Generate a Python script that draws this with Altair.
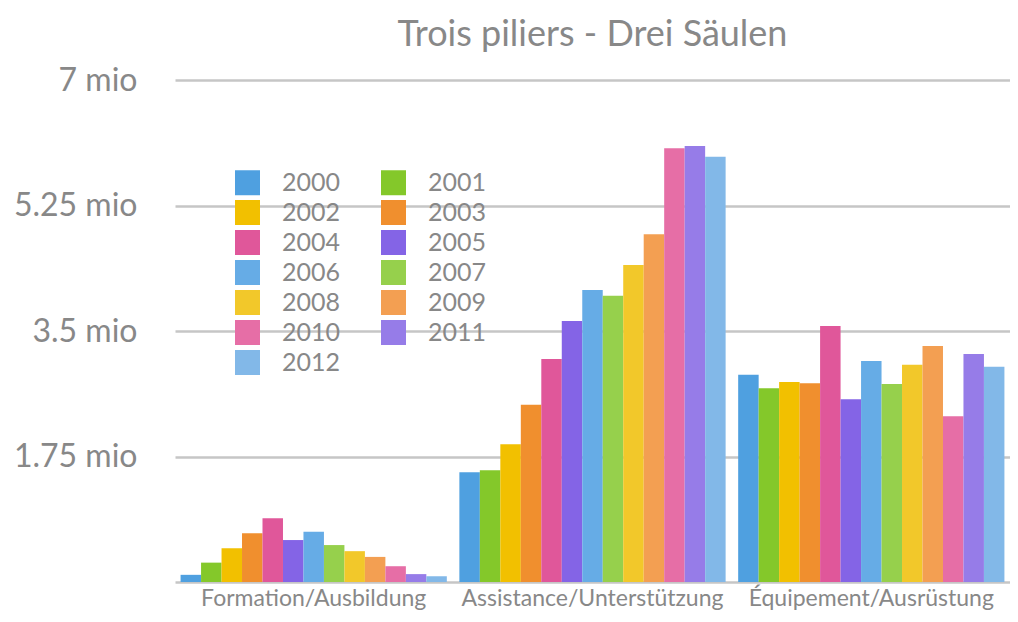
import altair as alt
import pandas as pd

categories = ["Formation/Ausbildung", "Assistance/Unterstützung", "Équipement/Ausrüstung"]
years = [str(y) for y in range(2000, 2013)]
formation = [0.10, 0.27, 0.47, 0.68, 0.89, 0.585, 0.70, 0.515, 0.43, 0.35, 0.22, 0.11, 0.08]
assistance = [1.53, 1.56, 1.92, 2.47, 3.11, 3.64, 4.07, 3.99, 4.42, 4.85, 6.05, 6.08, 5.93]
equipement = [2.89, 2.70, 2.79, 2.77, 3.57, 2.55, 3.08, 2.76, 3.03, 3.29, 2.31, 3.18, 3.00]
colors = ["#4fa0e0", "#84c82a", "#f2c000", "#f08f2e", "#e0579a", "#8464e6", "#66ace6",
          "#96d04c", "#f2c82a", "#f39f52", "#e66ea6", "#967ce8", "#82b8e8"]
y_ticks = [0, 1.75, 3.5, 5.25, 7]

rows = []
for cat, vals in zip(categories, [formation, assistance, equipement]):
    for yr, v in zip(years, vals):
        rows.append({"category": cat, "year": yr, "value": v})
df = pd.DataFrame(rows)

FONT = "Lato"
GRAY = "#888888"

chart = alt.Chart(df).mark_bar().encode(
    x=alt.X("category:N", sort=categories,
            scale=alt.Scale(paddingInner=0.045, paddingOuter=0.02),
            axis=alt.Axis(title=None, labelAngle=0, labelFontSize=23, labelColor=GRAY,
                          labelFont=FONT, labelPadding=5, ticks=False, domain=False,
                          labelLimit=0)),
    xOffset=alt.XOffset("year:N", sort=years, scale=alt.Scale(paddingInner=0, paddingOuter=0)),
    y=alt.Y("value:Q", scale=alt.Scale(domain=[0, 7], nice=False),
            axis=alt.Axis(title=None, values=y_ticks, labelFontSize=32, labelColor=GRAY,
                          labelFont=FONT, labelPadding=38, ticks=False, domain=False,
                          gridColor="#c6c6c6", gridWidth=2.5, labelLimit=0,
                          labelExpr="datum.value == 0 ? '' : datum.value + ' mio'")),
    color=alt.Color("year:N", sort=years,
                    scale=alt.Scale(domain=years, range=colors),
                    legend=alt.Legend(title=None, orient="none", legendX=60, legendY=90,
                                      columns=2, direction="horizontal",
                                      symbolType="square", symbolSize=625,
                                      symbolStrokeWidth=0, labelFontSize=25, labelColor=GRAY,
                                      labelFont=FONT, labelOffset=22, rowPadding=4,
                                      columnPadding=40, symbolOpacity=1)),
).properties(
    width=835, height=502,
    title=alt.TitleParams("Trois piliers - Drei Säulen", fontSize=36, color=GRAY,
                          font=FONT, fontWeight="normal", anchor="middle", offset=10),
    autosize=alt.AutoSizeParams(type="none"),
    padding={"left": 167, "top": 72, "right": 0, "bottom": 32},
).configure_view(stroke=None)

chart.save("out.html", embed_options={"renderer": "svg", "actions": False})
